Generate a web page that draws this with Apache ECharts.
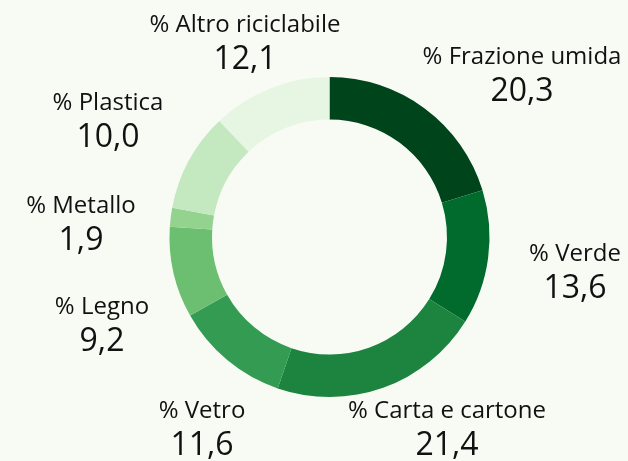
<!DOCTYPE html>
<html>
<head>
<meta charset="utf-8">
<script src="https://cdn.jsdelivr.net/npm/echarts@6/dist/echarts.min.js"></script>
<style>
  html, body { margin: 0; padding: 0; background: #f7fbf4; }
  #chart { width: 628px; height: 461px; }
</style>
</head>
<body>
<div id="chart"></div>
<script>
// categories and values (clockwise from the top)
const categories = [
  '% Frazione umida',
  '% Verde',
  '% Carta e cartone',
  '% Vetro',
  '% Legno',
  '% Metallo',
  '% Plastica',
  '% Altro riciclabile'
];
const values = [20.3, 13.6, 21.4, 11.6, 9.2, 1.9, 10.0, 12.1];

const colors = ['#00441b', '#006b2c', '#1c843f', '#349b53', '#6cbf71', '#94d28f', '#c4e8bf', '#e7f5e3'];

// where each label block is centred (pixels)
const labelSpots = [
  [522, 77], [575, 274], [447, 431], [202, 431],
  [102, 327], [81, 226], [108, 123], [245, 45]
];

let chart = echarts.init(document.getElementById('chart'));

const fmt = v => v.toFixed(1).replace('.', ',');

let option = {
  backgroundColor: '#f7fbf4',
  animation: false,
  series: [{
    type: 'pie',
    center: [329.5, 237],
    radius: [117.5, 160],
    startAngle: 90,
    clockwise: true,
    avoidLabelOverlap: false,
    silent: true,
    label: {
      show: true,
      position: 'outside',
      formatter: p => '{n|' + p.name + '}\n{v|' + fmt(p.value) + '}',
      rich: {
        n: {
          fontFamily: 'Open Sans',
          fontSize: 24,
          lineHeight: 30,
          color: '#111',
          align: 'center'
        },
        v: {
          fontFamily: 'Open Sans',
          fontSize: 32,
          lineHeight: 40,
          color: '#111',
          align: 'center'
        }
      }
    },
    labelLine: { show: false },
    labelLayout: p => ({
      x: labelSpots[p.dataIndex][0],
      y: labelSpots[p.dataIndex][1],
      align: 'center',
      verticalAlign: 'middle'
    }),
    data: categories.map((name, i) => ({
      name,
      value: values[i],
      itemStyle: { color: colors[i] }
    }))
  }]
};

chart.setOption(option);
window.addEventListener('resize', () => chart.resize(), false);
</script>
</body>
</html>
